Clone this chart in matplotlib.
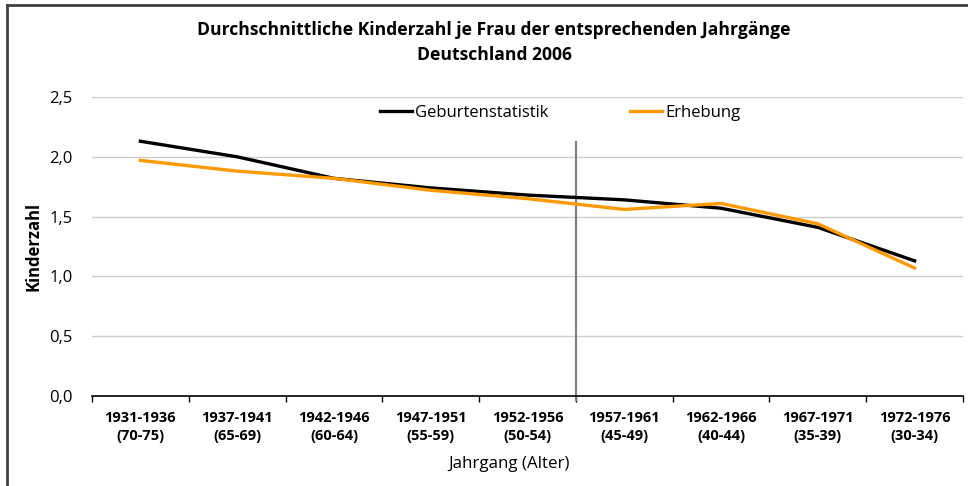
import matplotlib.pyplot as plt
from matplotlib.lines import Line2D
from matplotlib.patches import Rectangle

plt.rcParams['font.family'] = ['Open Sans', 'DejaVu Sans']

jahrgang = ['1931-1936\n(70-75)', '1937-1941\n(65-69)', '1942-1946\n(60-64)',
            '1947-1951\n(55-59)', '1952-1956\n(50-54)', '1957-1961\n(45-49)',
            '1962-1966\n(40-44)', '1967-1971\n(35-39)', '1972-1976\n(30-34)']
geburtenstatistik = [2.13, 2.00, 1.82, 1.74, 1.68, 1.64, 1.57, 1.41, 1.13]
erhebung = [1.97, 1.88, 1.82, 1.72, 1.65, 1.56, 1.61, 1.44, 1.07]
yticks = [0.0, 0.5, 1.0, 1.5, 2.0, 2.5]

fig = plt.figure(figsize=(9.68, 4.86), dpi=100)
ax = fig.add_axes([92/968, 1-396/486, (963-92)/968, (396-97)/486])

x = list(range(len(jahrgang)))
ax.plot(x, geburtenstatistik, color='black', lw=2.4, zorder=4, label='Geburtenstatistik')
ax.plot(x, erhebung, color='#ff9900', lw=2.4, zorder=4, label='Erhebung')

ax.set_xlim(-0.5, len(jahrgang) - 0.5)
ax.set_ylim(0, 2.5)
ax.set_yticks(yticks)
ax.set_yticklabels([f'{v:.1f}'.replace('.', ',') for v in yticks], fontsize=12)
ax.set_xticks(x)
ax.set_xticklabels(jahrgang, fontsize=10.5, fontweight='bold', linespacing=1.3)
ax.set_xticks([i + 0.5 for i in range(-1, len(jahrgang))], minor=True)
ax.tick_params(axis='x', which='major', length=0, pad=11)
ax.tick_params(axis='x', which='minor', length=4, width=1, color='black')
ax.tick_params(axis='y', length=0, pad=14)

ax.grid(axis='y', color='#cccccc', lw=1)
ax.set_axisbelow(True)
for s in ['left', 'right', 'top']:
    ax.spines[s].set_visible(False)
ax.spines['bottom'].set_color('black')
ax.spines['bottom'].set_linewidth(1.2)
ax.spines['bottom'].set_zorder(5)

# separator between age groups
ax.plot([4.5, 4.5], [-0.035, 2.125], color='#808080', lw=1.5, clip_on=False, zorder=3)

# white gap behind the legend
ax.add_patch(Rectangle((340, 92), 435, 12, transform=None, facecolor='white',
                       edgecolor='none', zorder=2))
handles = [Line2D([], [], color='black', lw=2.4), Line2D([], [], color='#ff9900', lw=2.4)]
fig.legend(handles, ['Geburtenstatistik', 'Erhebung'], ncol=2, frameon=False,
           loc='center', bbox_to_anchor=(560/968, 1-113/486), fontsize=12,
           handlelength=1.9, handletextpad=0.2, columnspacing=4.9)

fig.text(494/968, 1-30/486, 'Durchschnittliche Kinderzahl je Frau der entsprechenden Jahrgänge',
         ha='center', va='center', fontsize=12.6, fontweight='bold')
fig.text(494/968, 1-55/486, 'Deutschland 2006', ha='center', va='center',
         fontsize=12.6, fontweight='bold')
fig.text(33/968, 1-246/486, 'Kinderzahl', rotation=90, ha='center', va='center',
         fontsize=12, fontweight='bold')
fig.text(509/968, 1-464/486, 'Jahrgang (Alter)', ha='center', va='center', fontsize=12.2)

# outer frame (left and top edges visible)
fig.add_artist(Line2D([7/968, 7/968], [0, 1-5/486], color='#404040', lw=2))
fig.add_artist(Line2D([7/968, 1], [1-5/486, 1-5/486], color='#404040', lw=2))

fig.savefig('out.png', dpi=100)
